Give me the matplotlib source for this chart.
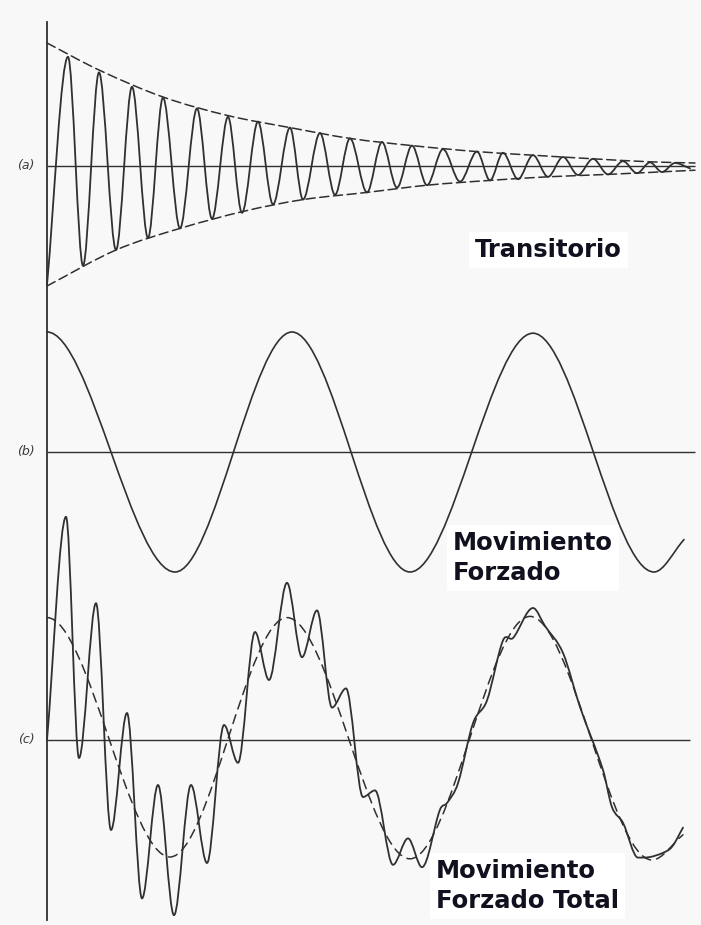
import numpy as np
import matplotlib
matplotlib.use("Agg")
import matplotlib.pyplot as plt
from matplotlib.path import Path
from matplotlib.patches import PathPatch
from matplotlib.lines import Line2D

W, H = 701, 925
INK = "#303030"
TXT = "#10101e"

# (a) transient response: successive peaks and troughs
trans_t = [0, 2.1, 3.6, 5.2, 6.9, 8.5, 10.1, 11.6, 13.3, 15.0, 16.5, 18.1, 19.5, 21.1,
           22.6, 24.3, 25.6, 27.3, 28.8, 30.3, 32.0, 33.5, 35.0, 36.5, 38.0, 39.6, 41.3,
           43.0, 44.3, 45.6, 47.1, 48.6, 50.1, 51.6, 53.1, 54.6, 56.1, 57.6, 59.0, 60.3,
           61.5, 62.8, 64.3]
trans_y = [-9.9, 9.1, -8.3, 7.8, -7.0, 6.6, -6.0, 5.7, -5.2, 4.8, -4.4, 4.1, -3.9, 3.7,
           -3.2, 3.2, -2.8, 2.75, -2.4, 2.3, -2.2, 2.0, -1.8, 1.7, -1.6, 1.4, -1.3,
           1.2, -1.2, 1.1, -1.1, 0.9, -0.9, 0.75, -0.75, 0.6, -0.7, 0.4, -0.6, 0.3,
           -0.5, 0.25, -0.2]

# decay envelope of the transient
env_top_t = [0, 5.2, 11.6, 18.1, 24.3, 30.3, 36.5, 43.0, 48.6, 54.6, 60.3, 64.8]
env_top_y = [10.25, 8.0, 5.75, 4.2, 3.2, 2.3, 1.7, 1.2, 0.9, 0.6, 0.35, 0.25]
env_bot_t = [0, 6.9, 13.3, 19.8, 25.6, 32.0, 38.0, 44.3, 50.1, 56.1, 64.8]
env_bot_y = [-10.0, -7.0, -5.2, -3.75, -2.8, -2.2, -1.6, -1.2, -0.9, -0.7, -0.35]

# (b) forced motion
forced_t = [0, 12.8, 24.5, 36.3, 48.6, 60.7, 63.7]
forced_y = [10.0, -10.0, 10.0, -10.0, 9.9, -10.0, -7.3]

# (c) forced motion again (dashed) and the total response
steady_t = [0, 12.3, 24.0, 36.3, 48.3, 60.5, 63.6]
steady_y = [10.2, -9.75, 10.2, -9.9, 10.3, -10.0, -7.9]

total_t = [0, 1.9, 3.2, 4.9, 6.4, 8.0, 9.5, 11.1, 12.7, 14.4, 16.0, 17.7, 19.1, 20.8,
           22.2, 24.0, 25.5, 27.0, 28.5, 29.9, 31.6, 32.8, 34.6, 36.1, 37.5, 39.3, 40.0,
           41.1, 42.6, 44.0, 45.6, 46.6, 48.6, 49.8, 51.6, 53.3, 55.6, 56.5, 57.6, 59.1,
           60.3, 61.6, 62.5, 63.6]
total_y = [0, 18.6, -1.5, 11.4, -7.5, 2.25, -13.2, -3.75, -14.6, -3.75, -10.25, 1.25, -1.9, 9.0,
           5.0, 13.1, 6.9, 10.8, 2.7, 4.3, -4.75, -4.2, -10.4, -8.2, -10.6, -5.8, -5.25,
           -3.6, 1.4, 3.3, 8.3, 8.5, 11.0, 9.5, 7.25, 2.75, -2.5, -5.6, -6.9, -9.8,
           -9.75, -9.4, -8.9, -7.3]

panel_tags = ["(a)", "(b)", "(c)"]
captions = ["Transitorio", "Movimiento\nForzado", "Movimiento\nForzado Total"]


def smooth_path(t, y, flat_start=False):
  # cubic Hermite through the given points, flat at the turning points
  t = np.asarray(t, float)
  y = np.asarray(y, float)
  n = len(t)
  m = np.zeros(n)
  for i in range(n):
    if i == 0:
      m[i] = 0 if flat_start else (y[1] - y[0]) / (t[1] - t[0])
    elif i == n - 1:
      m[i] = (y[-1] - y[-2]) / (t[-1] - t[-2])
    elif (y[i] - y[i - 1]) * (y[i + 1] - y[i]) <= 0:
      m[i] = 0
    else:
      m[i] = (y[i + 1] - y[i - 1]) / (t[i + 1] - t[i - 1])
  verts = [(t[0], y[0])]
  codes = [Path.MOVETO]
  for i in range(n - 1):
    h = t[i + 1] - t[i]
    verts += [(t[i] + h / 3, y[i] + m[i] * h / 3),
              (t[i + 1] - h / 3, y[i + 1] - m[i + 1] * h / 3),
              (t[i + 1], y[i + 1])]
    codes += [Path.CURVE4] * 3
  return Path(verts, codes)


def draw(ax, t, y, flat_start=False, **kw):
  ax.add_patch(PathPatch(smooth_path(t, y, flat_start), fill=False,
                         edgecolor=INK, capstyle="round", joinstyle="round", **kw))


def panel(top, bottom, base):
  ax = fig.add_axes([0, 1 - bottom / H, 1, (bottom - top) / H])
  ax.set_xlim(-4.7, 65.4)
  ax.set_ylim((base - bottom) / 12, (base - top) / 12)
  ax.axis("off")
  return ax


fig = plt.figure(figsize=(W / 100, H / 100), dpi=100)
fig.patch.set_facecolor("#f8f8f8")

ax_a = panel(0, 310, 166)
ax_b = panel(300, 600, 452)
ax_c = panel(480, 925, 740)

# time axis shared by the three traces
fig.add_artist(Line2D([47 / W, 47 / W], [1 - 22 / H, 1 - 920 / H],
                      transform=fig.transFigure, color=INK, lw=1.3))

for ax, tag, right in zip([ax_a, ax_b, ax_c], panel_tags, [64.8, 64.8, 64.3]):
  ax.hlines(0, 0, right, color=INK, lw=1.0)
  ax.text(-2.1, 0, tag, ha="center", va="center", style="italic",
          fontsize=9, color="#3a3a3a")

draw(ax_a, trans_t, trans_y, lw=1.3)
draw(ax_a, env_top_t, env_top_y, lw=1.1, linestyle=(0, (6, 3)))
draw(ax_a, env_bot_t, env_bot_y, lw=1.1, linestyle=(0, (6, 3)))

draw(ax_b, forced_t, forced_y, flat_start=True, lw=1.2)

draw(ax_c, steady_t, steady_y, flat_start=True, lw=1.1, linestyle=(0, (6, 4)))
draw(ax_c, total_t, total_y, lw=1.3)

# captions: position is the baseline of the last line
box = dict(boxstyle="square,pad=0.25", facecolor="white", edgecolor="none")
cap_pos = [(475, 257), (453, 580), (436, 908)]
for text, (px, py) in zip(captions, cap_pos):
  fig.text(px / W, 1 - py / H, text, ha="left", va="baseline", fontsize=17.5,
           fontweight="bold", color=TXT, linespacing=1.3, bbox=box)

fig.savefig("out.png", dpi=100, facecolor=fig.get_facecolor())
